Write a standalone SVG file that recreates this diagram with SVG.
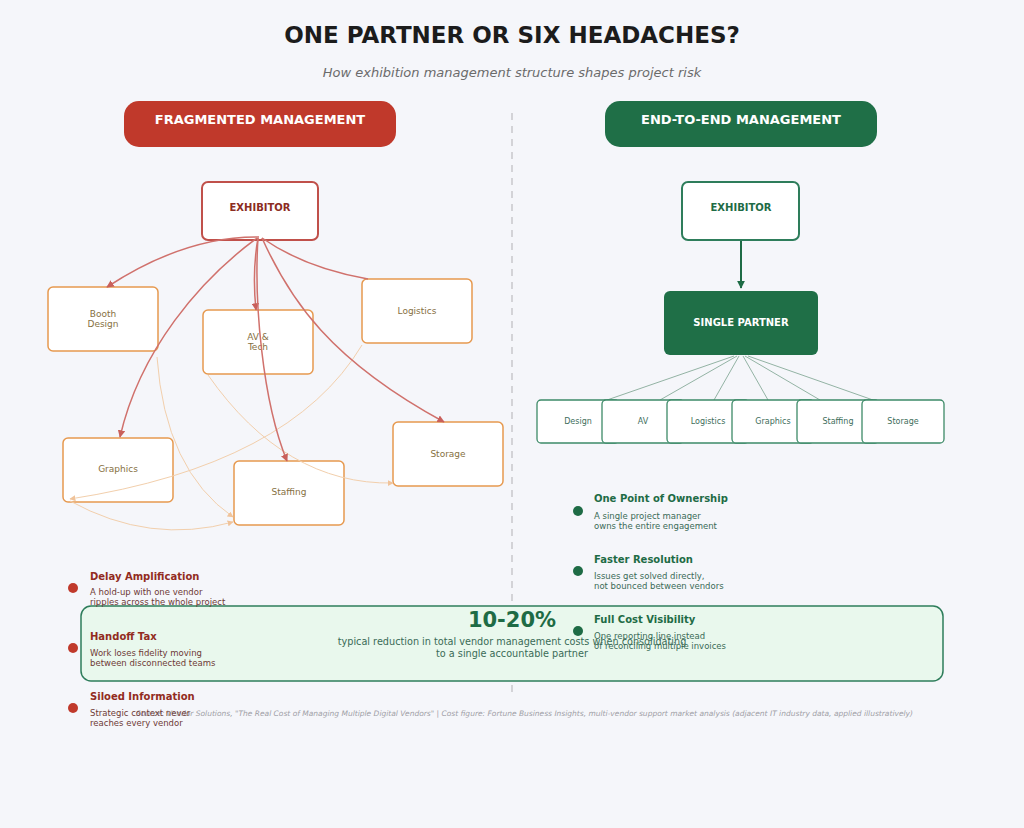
<svg xmlns="http://www.w3.org/2000/svg" width="1024" height="828" viewBox="0 0 1024 828">
<style>
text{font-family:"DejaVu Sans","Liberation Sans",sans-serif}
.title{font-size:23px;font-weight:bold;fill:#1c1c1c}
.sub{font-size:13px;font-style:italic;fill:#6b6b6b}
.pill{font-size:13px;font-weight:bold;fill:#fff}
.onode{fill:#fff;stroke:#e6994f;stroke-width:1.5}
.otxt{font-size:9px;fill:#86703f}
.gbox{fill:#fff;stroke:#3d8a68;stroke-width:1.3}
.gtxt{font-size:8px;fill:#3e6e5c}
.redge{fill:none;stroke:#d0716c;stroke-width:1.5}
.ledge{fill:none;stroke:#f2cfac;stroke-width:1}
.fan{stroke:#93b3a4;stroke-width:1}
.rt{font-size:10px;font-weight:bold;fill:#922b21}
.rd{font-size:8.5px;fill:#6e3a36}
.gt{font-size:10px;font-weight:bold;fill:#1e6b45}
.gd{font-size:8.5px;fill:#3a6b57}
</style>
<defs>
<marker id="ar" viewBox="0 0 10 10" refX="9" refY="5" markerWidth="5" markerHeight="5" orient="auto"><path d="M0,0L10,5L0,10z" fill="#c9605b"/></marker>
<marker id="al" viewBox="0 0 10 10" refX="9" refY="5" markerWidth="6" markerHeight="6" orient="auto"><path d="M0,0L10,5L0,10z" fill="#f0c39a"/></marker>
<marker id="ag" viewBox="0 0 10 10" refX="9" refY="5" markerWidth="4" markerHeight="4" orient="auto"><path d="M0,0L10,5L0,10z" fill="#1e6b45"/></marker>
</defs>
<rect width="1024" height="828" fill="#f5f6fa"/>
<text class="title" x="512" y="43" text-anchor="middle">ONE PARTNER OR SIX HEADACHES?</text>
<text class="sub" x="512" y="77" text-anchor="middle">How exhibition management structure shapes project risk</text>
<g id="hdr-left"><rect x="124" y="101" width="272" height="46" rx="15" fill="#c0392b"/><text class="pill" x="260" y="124" text-anchor="middle">FRAGMENTED MANAGEMENT</text></g>
<g id="hdr-right"><rect x="605" y="101" width="272" height="46" rx="15" fill="#1f6f47"/><text class="pill" x="741" y="124" text-anchor="middle">END-TO-END MANAGEMENT</text></g>
<line x1="512" y1="113" x2="512" y2="697" stroke="#c8c8cc" stroke-width="1.5" stroke-dasharray="7,6"/>

<g id="l-exhibitor"><rect x="202" y="182" width="116" height="58" rx="6" fill="#fff" stroke="#c0504a" stroke-width="2"/><text x="260" y="211" text-anchor="middle" font-size="10" font-weight="bold" fill="#8b2c22">EXHIBITOR</text></g>
<g id="l-booth"><rect class="onode" x="48" y="287" width="110" height="64" rx="5"/><text class="otxt" x="103" y="317" text-anchor="middle">Booth</text><text class="otxt" x="103" y="327" text-anchor="middle">Design</text></g>
<g id="l-av"><rect class="onode" x="203" y="310" width="110" height="64" rx="5"/><text class="otxt" x="258" y="340" text-anchor="middle">AV &amp;</text><text class="otxt" x="258" y="350" text-anchor="middle">Tech</text></g>
<g id="l-logistics"><rect class="onode" x="362" y="279" width="110" height="64" rx="5"/><text class="otxt" x="417" y="314" text-anchor="middle">Logistics</text></g>
<g id="l-graphics"><rect class="onode" x="63" y="438" width="110" height="64" rx="5"/><text class="otxt" x="118" y="472" text-anchor="middle">Graphics</text></g>
<g id="l-staffing"><rect class="onode" x="234" y="461" width="110" height="64" rx="5"/><text class="otxt" x="289" y="495" text-anchor="middle">Staffing</text></g>
<g id="l-storage"><rect class="onode" x="393" y="422" width="110" height="64" rx="5"/><text class="otxt" x="448" y="457" text-anchor="middle">Storage</text></g>

<g id="connectors-light">
<path class="ledge" d="M157,357 Q165,470 233,517" marker-end="url(#al)"/>
<path class="ledge" d="M208,375 Q285,485 393,483" marker-end="url(#al)"/>
<path class="ledge" d="M362,345 Q290,465 70,499" marker-end="url(#al)"/>
<path class="ledge" d="M70,501 Q150,545 233,522" marker-end="url(#al)"/>
</g>

<g id="connectors-red">
<path class="redge" d="M259,237 Q185,236 107,287" marker-end="url(#ar)"/>
<path class="redge" d="M258,238 Q252,272 256,310" marker-end="url(#ar)"/>
<path class="redge" d="M262,238 Q305,268 368,279"/>
<path class="redge" d="M257,238 C200,280 140,350 120,437" marker-end="url(#ar)"/>
<path class="redge" d="M258,238 C254,300 262,400 287,461" marker-end="url(#ar)"/>
<path class="redge" d="M262,238 C290,300 330,360 444,422" marker-end="url(#ar)"/>
</g>

<g id="connectors-right">
<line x1="741" y1="238" x2="741" y2="288" stroke="#1e6b45" stroke-width="2" marker-end="url(#ag)"/>
<line class="fan" x1="734" y1="356" x2="607" y2="400"/>
<line class="fan" x1="737" y1="356" x2="660" y2="400"/>
<line class="fan" x1="739" y1="356" x2="714" y2="400"/>
<line class="fan" x1="743" y1="356" x2="768" y2="400"/>
<line class="fan" x1="745" y1="356" x2="820" y2="400"/>
<line class="fan" x1="748" y1="356" x2="873" y2="400"/>
</g>

<g id="r-exhibitor"><rect x="682" y="182" width="117" height="58" rx="6" fill="#fff" stroke="#2e7d5b" stroke-width="2"/><text x="741" y="211" text-anchor="middle" font-size="10" font-weight="bold" fill="#1e6b45">EXHIBITOR</text></g>
<g id="r-partner"><rect x="664" y="291" width="154" height="64" rx="6" fill="#1f6f47"/><text x="741" y="326" text-anchor="middle" font-size="10" font-weight="bold" fill="#fff">SINGLE PARTNER</text></g>
<g id="r-design"><rect class="gbox" x="537" y="400" width="82" height="43" rx="4"/><text class="gtxt" x="578" y="424" text-anchor="middle">Design</text></g>
<g id="r-av"><rect class="gbox" x="602" y="400" width="82" height="43" rx="4"/><text class="gtxt" x="643" y="424" text-anchor="middle">AV</text></g>
<g id="r-logistics"><rect class="gbox" x="667" y="400" width="82" height="43" rx="4"/><text class="gtxt" x="708" y="424" text-anchor="middle">Logistics</text></g>
<g id="r-graphics"><rect class="gbox" x="732" y="400" width="82" height="43" rx="4"/><text class="gtxt" x="773" y="424" text-anchor="middle">Graphics</text></g>
<g id="r-staffing"><rect class="gbox" x="797" y="400" width="82" height="43" rx="4"/><text class="gtxt" x="838" y="424" text-anchor="middle">Staffing</text></g>
<g id="r-storage"><rect class="gbox" x="862" y="400" width="82" height="43" rx="4"/><text class="gtxt" x="903" y="424" text-anchor="middle">Storage</text></g>

<g id="callout"><rect x="81" y="606" width="862" height="75" rx="10" fill="#e9f8ed" stroke="#2e7d5b" stroke-width="1.5"/>
<text x="512" y="627" text-anchor="middle" font-size="21" font-weight="bold" fill="#1e6b45">10-20%</text>
<text x="512" y="645" text-anchor="middle" font-size="9.7" fill="#3a6b57">typical reduction in total vendor management costs when consolidating</text>
<text x="512" y="657" text-anchor="middle" font-size="9.7" fill="#3a6b57">to a single accountable partner</text></g>

<text x="913" y="716" text-anchor="end" font-size="7.5" font-style="italic" fill="#a0a0a6">Source: Vendor Solutions, "The Real Cost of Managing Multiple Digital Vendors"  |  Cost figure: Fortune Business Insights, multi-vendor support market analysis (adjacent IT industry data, applied illustratively)</text>

<g id="b-delay"><circle cx="73" cy="588" r="5" fill="#c0392b"/><text class="rt" x="90" y="580">Delay Amplification</text><text class="rd" x="90" y="595">A hold-up with one vendor</text><text class="rd" x="90" y="605">ripples across the whole project</text></g>
<g id="b-handoff"><circle cx="73" cy="648" r="5" fill="#c0392b"/><text class="rt" x="90" y="640">Handoff Tax</text><text class="rd" x="90" y="656">Work loses fidelity moving</text><text class="rd" x="90" y="666">between disconnected teams</text></g>
<g id="b-siloed"><circle cx="73" cy="708" r="5" fill="#c0392b"/><text class="rt" x="90" y="700">Siloed Information</text><text class="rd" x="90" y="716">Strategic context never</text><text class="rd" x="90" y="726">reaches every vendor</text></g>

<g id="b-ownership"><circle cx="578" cy="511" r="5" fill="#1e6b45"/><text class="gt" x="594" y="502">One Point of Ownership</text><text class="gd" x="594" y="519">A single project manager</text><text class="gd" x="594" y="529">owns the entire engagement</text></g>
<g id="b-faster"><circle cx="578" cy="571" r="5" fill="#1e6b45"/><text class="gt" x="594" y="563">Faster Resolution</text><text class="gd" x="594" y="579">Issues get solved directly,</text><text class="gd" x="594" y="589">not bounced between vendors</text></g>
<g id="b-cost"><circle cx="578" cy="631" r="5" fill="#1e6b45"/><text class="gt" x="594" y="623">Full Cost Visibility</text><text class="gd" x="594" y="639">One reporting line instead</text><text class="gd" x="594" y="649">of reconciling multiple invoices</text></g>
</svg>
